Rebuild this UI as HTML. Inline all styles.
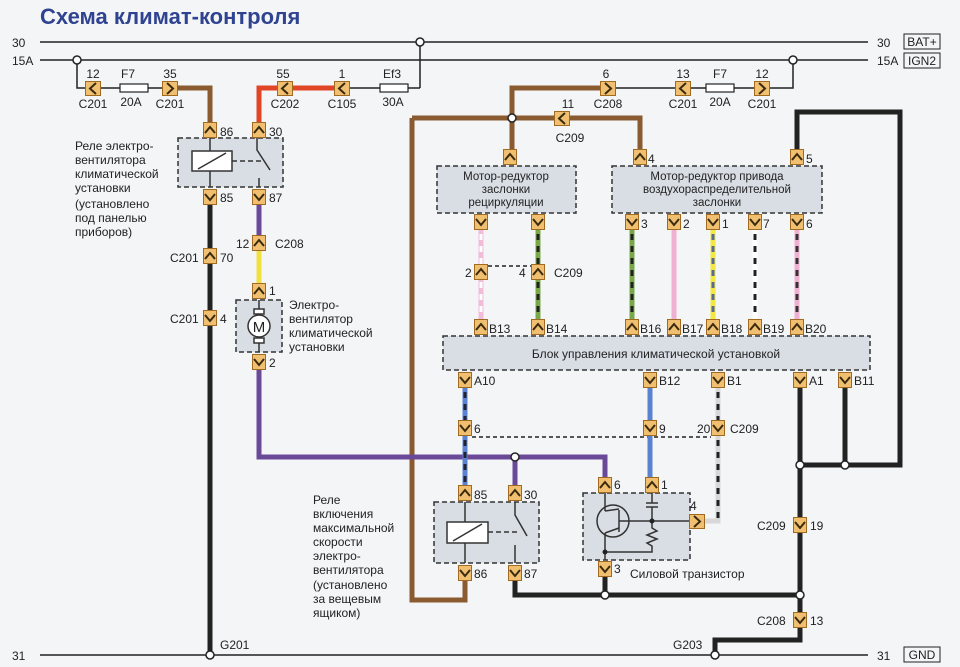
<!DOCTYPE html>
<html><head><meta charset="utf-8"><style>
html,body{margin:0;padding:0;background:#f3f5f7;}
svg{display:block;font-family:"Liberation Sans",sans-serif;}
</style></head><body>
<svg width="960" height="667" viewBox="0 0 960 667" xmlns="http://www.w3.org/2000/svg">
<defs>
<symbol id="cu" overflow="visible"><rect x="0.5" y="0.5" width="13" height="15" fill="#f0c070" stroke="#a06a20"/><polyline points="2,11 7,5 12,11" fill="none" stroke="#3a2a10" stroke-width="2"/></symbol>
<symbol id="cd" overflow="visible"><rect x="0.5" y="0.5" width="13" height="15" fill="#f0c070" stroke="#a06a20"/><polyline points="2,5 7,11 12,5" fill="none" stroke="#3a2a10" stroke-width="2"/></symbol>
<symbol id="cl" overflow="visible"><rect x="0.5" y="0.5" width="15" height="14" fill="#f0c070" stroke="#a06a20"/><polyline points="11,2 5,7.5 11,13" fill="none" stroke="#3a2a10" stroke-width="2"/></symbol>
<symbol id="cr" overflow="visible"><rect x="0.5" y="0.5" width="15" height="14" fill="#f0c070" stroke="#a06a20"/><polyline points="5,2 11,7.5 5,13" fill="none" stroke="#3a2a10" stroke-width="2"/></symbol>
</defs>
<rect width="960" height="667" fill="#f3f5f7"/>
<text x="40" y="24" font-size="22" font-weight="bold" fill="#2f4390">Схема климат-контроля</text>

<!-- boxes -->
<g fill="#d9dee5" stroke="#333" stroke-width="1.5" stroke-dasharray="5,3">
<rect x="178" y="138" width="105" height="49"/>
<rect x="236" y="300" width="46" height="52"/>
<rect x="437" y="166" width="139" height="47"/>
<rect x="612" y="166" width="210" height="47"/>
<rect x="443" y="336" width="427" height="34"/>
<rect x="434" y="502" width="105" height="61"/>
<rect x="583" y="493" width="107" height="67"/>
</g>

<!-- bus lines -->
<g stroke="#222" stroke-width="1.5" fill="none">
<line x1="40" y1="42" x2="868" y2="42"/>
<line x1="40" y1="60" x2="868" y2="60"/>
<line x1="40" y1="655" x2="868" y2="655"/>
<polyline points="77,60 77,88 86,88"/><line x1="100" y1="88" x2="163" y2="88"/>
<line x1="349" y1="88" x2="420" y2="88"/><line x1="420" y1="88" x2="420" y2="42"/>
<line x1="615" y1="88" x2="676" y2="88"/><polyline points="690,88 755,88"/><polyline points="769,88 793,88 793,60"/>
<line x1="488" y1="266" x2="531" y2="266" stroke-dasharray="4,3"/>
<line x1="472" y1="437" x2="711" y2="437" stroke-dasharray="4,3"/>
</g>
<g fill="#fff" stroke="#222" stroke-width="1.2">
<rect x="120" y="84" width="28" height="8"/><rect x="380" y="84" width="28" height="8"/><rect x="706" y="84" width="28" height="8"/>
</g>

<!-- wires -->
<g fill="none" stroke-width="5" stroke-linejoin="miter">
<polyline points="177,88 210,88 210,122" stroke="#8a5a30"/>
<polyline points="259,122 259,88 335,88" stroke="#e04525"/>
<polyline points="601,88 512,88 512,150" stroke="#8a5a30"/>
<polyline points="412,118 640,118 640,150" stroke="#8a5a30"/>
<polyline points="412,118 412,600 465,600 465,580" stroke="#8a5a30"/>
<polyline points="797,150 797,112 900,112 900,465 800,465" stroke="#222"/>
<line x1="845" y1="388" x2="845" y2="465" stroke="#222"/>
<line x1="210" y1="205" x2="210" y2="655" stroke="#222"/>
<line x1="259" y1="205" x2="259" y2="236" stroke="#6a4a98"/>
<line x1="259" y1="250" x2="259" y2="284" stroke="#f0e040"/>
<polyline points="259,370 259,457 605,457 605,478" stroke="#6a4a98"/>
<line x1="515" y1="457" x2="515" y2="486" stroke="#6a4a98"/>
<polyline points="800,388 800,640 715,640 715,655" stroke="#222"/>
<polyline points="515,580 515,595 800,595" stroke="#222"/>
<line x1="605" y1="576" x2="605" y2="595" stroke="#222"/>
<line x1="481" y1="230" x2="481" y2="320" stroke="#f2bcd8"/>
<line x1="538" y1="230" x2="538" y2="320" stroke="#78a848"/>
<line x1="632" y1="230" x2="632" y2="320" stroke="#78a848"/>
<line x1="674" y1="230" x2="674" y2="320" stroke="#f0b0d0"/>
<line x1="713" y1="230" x2="713" y2="320" stroke="#f2e840"/>
<line x1="755" y1="230" x2="755" y2="320" stroke="#fff"/>
<line x1="797" y1="230" x2="797" y2="320" stroke="#f0b0d0"/>
<line x1="465" y1="388" x2="465" y2="486" stroke="#5a82d0"/>
<line x1="650" y1="388" x2="650" y2="478" stroke="#5a82d0"/>
<polyline points="718,388 718,521 704,521" stroke="#d8d8d8"/>
</g>
<g fill="none" stroke-width="3" stroke-dasharray="6,6">
<line x1="481" y1="234" x2="481" y2="318" stroke="#fff"/>
<line x1="538" y1="234" x2="538" y2="318" stroke="#222"/>
<line x1="632" y1="234" x2="632" y2="318" stroke="#222"/>
<line x1="713" y1="234" x2="713" y2="318" stroke="#5a6a90"/>
<line x1="755" y1="234" x2="755" y2="318" stroke="#222"/>
<line x1="797" y1="234" x2="797" y2="318" stroke="#333"/>
<line x1="465" y1="392" x2="465" y2="484" stroke="#223"/>
<line x1="718" y1="392" x2="718" y2="518" stroke="#222"/>
</g>

<!-- relay 1 internals -->
<g fill="none" stroke="#333" stroke-width="1.5">
<line x1="210" y1="138" x2="210" y2="151"/><line x1="210" y1="171" x2="210" y2="187"/>
<rect x="192" y="151" width="40" height="20" fill="#fff"/><line x1="198" y1="169" x2="226" y2="153"/>
<line x1="232" y1="161" x2="264" y2="161" stroke-dasharray="5,3"/>
<polyline points="257,138 257,150 270,170"/><line x1="259" y1="178" x2="259" y2="187"/>
<line x1="465" y1="502" x2="465" y2="522"/><line x1="465" y1="543" x2="465" y2="563"/>
<rect x="447" y="522" width="41" height="21" fill="#fff"/><line x1="453" y1="541" x2="482" y2="524"/>
<line x1="488" y1="532" x2="520" y2="532" stroke-dasharray="5,3"/>
<polyline points="515,502 515,515 527,536"/><line x1="515" y1="545" x2="515" y2="563"/>
<line x1="259" y1="300" x2="259" y2="310"/><rect x="254" y="309" width="10" height="5" fill="#fff"/>
<circle cx="259" cy="326" r="11" fill="#fff"/><rect x="254" y="338" width="10" height="5" fill="#fff"/><line x1="259" y1="343" x2="259" y2="352"/>
<circle cx="613" cy="521" r="16"/><line x1="605" y1="493" x2="605" y2="511"/><line x1="605" y1="511" x2="619" y2="509"/>
<line x1="619" y1="510" x2="619" y2="532"/><line x1="619" y1="528" x2="605" y2="533"/>
<line x1="605" y1="533" x2="605" y2="560"/><line x1="619" y1="521" x2="690" y2="521"/>
<line x1="652" y1="493" x2="652" y2="503"/><line x1="646" y1="503" x2="658" y2="503"/><line x1="646" y1="507" x2="658" y2="507"/><line x1="652" y1="507" x2="652" y2="521"/>
<polyline points="652,521 652,528 657,531 647,535 657,539 647,543 652,546 652,552 605,552"/>
</g>
<g fill="#222"><circle cx="652" cy="521" r="2.5"/><circle cx="605" cy="552" r="2.5"/></g>
<text x="259" y="332" font-size="15" text-anchor="middle" fill="#222">M</text>

<!-- junctions -->
<g fill="#fff" stroke="#222" stroke-width="1.5">
<circle cx="420" cy="42" r="4"/><circle cx="77" cy="60" r="4"/><circle cx="793" cy="60" r="4"/>
<circle cx="512" cy="118" r="4"/><circle cx="515" cy="457" r="4"/><circle cx="605" cy="595" r="4"/>
<circle cx="800" cy="595" r="4"/><circle cx="800" cy="465" r="4"/><circle cx="845" cy="465" r="4"/>
<circle cx="210" cy="655" r="4"/><circle cx="715" cy="655" r="4"/>
</g>

<!-- connectors -->
<use href="#cl" x="85" y="81"/><use href="#cr" x="162" y="81"/><use href="#cl" x="277" y="81"/><use href="#cl" x="334" y="81"/>
<use href="#cr" x="600" y="81"/><use href="#cl" x="675" y="81"/><use href="#cr" x="754" y="81"/>
<use href="#cl" x="554" y="111"/>
<use href="#cu" x="203" y="122"/><use href="#cu" x="252" y="122"/><use href="#cd" x="203" y="189"/><use href="#cd" x="252" y="189"/>
<use href="#cu" x="252" y="235"/><use href="#cu" x="203" y="248"/><use href="#cd" x="203" y="310"/><use href="#cu" x="252" y="283"/><use href="#cd" x="252" y="354"/>
<use href="#cu" x="503" y="149"/><use href="#cu" x="633" y="149"/><use href="#cu" x="790" y="149"/>
<use href="#cd" x="474" y="214"/><use href="#cd" x="531" y="214"/><use href="#cd" x="625" y="214"/><use href="#cd" x="667" y="214"/><use href="#cd" x="706" y="214"/><use href="#cd" x="748" y="214"/><use href="#cd" x="790" y="214"/>
<use href="#cu" x="474" y="264"/><use href="#cu" x="531" y="264"/>
<use href="#cu" x="474" y="319"/><use href="#cu" x="531" y="319"/><use href="#cu" x="625" y="319"/><use href="#cu" x="667" y="319"/><use href="#cu" x="706" y="319"/><use href="#cu" x="748" y="319"/><use href="#cu" x="790" y="319"/>
<use href="#cd" x="458" y="372"/><use href="#cd" x="643" y="372"/><use href="#cd" x="711" y="372"/><use href="#cd" x="793" y="372"/><use href="#cd" x="838" y="372"/>
<use href="#cd" x="458" y="420"/><use href="#cd" x="643" y="420"/><use href="#cd" x="711" y="420"/>
<use href="#cu" x="458" y="485"/><use href="#cu" x="508" y="485"/><use href="#cd" x="458" y="565"/><use href="#cd" x="508" y="565"/>
<use href="#cu" x="598" y="477"/><use href="#cu" x="645" y="477"/><use href="#cd" x="598" y="561"/><use href="#cr" x="689" y="514"/>
<use href="#cd" x="793" y="517"/><use href="#cd" x="793" y="612"/>

<!-- labels -->
<g font-size="12" fill="#222">
<text x="12" y="47">30</text><text x="12" y="65">15A</text><text x="12" y="660">31</text>
<text x="877" y="47">30</text><text x="877" y="65">15A</text><text x="877" y="660">31</text>
<rect x="904" y="34" width="36" height="15" fill="none" stroke="#222"/><text x="922" y="46" text-anchor="middle">BAT+</text>
<rect x="904" y="53" width="36" height="15" fill="none" stroke="#222"/><text x="922" y="65" text-anchor="middle">IGN2</text>
<rect x="904" y="647" width="36" height="15" fill="none" stroke="#222"/><text x="922" y="659" text-anchor="middle">GND</text>
<g text-anchor="middle">
<text x="93" y="78">12</text><text x="128" y="78">F7</text><text x="170" y="78">35</text>
<text x="93" y="108">C201</text><text x="131" y="106">20A</text><text x="170" y="108">C201</text>
<text x="283" y="78">55</text><text x="342" y="78">1</text><text x="392" y="78">Ef3</text>
<text x="285" y="108">C202</text><text x="342" y="108">C105</text><text x="393" y="106">30A</text>
<text x="606" y="78">6</text><text x="683" y="78">13</text><text x="720" y="78">F7</text><text x="762" y="78">12</text>
<text x="608" y="108">C208</text><text x="683" y="108">C201</text><text x="720" y="106">20A</text><text x="762" y="108">C201</text>
<text x="568" y="108">11</text><text x="570" y="142">C209</text>
<g font-size="11.5">
<text x="506" y="180">Мотор-редуктор</text><text x="506" y="193">заслонки</text><text x="506" y="206">рециркуляции</text>
<text x="717" y="180">Мотор-редуктор привода</text><text x="717" y="193">воздухораспределительной</text><text x="717" y="206">заслонки</text>
</g>
<text x="656" y="358">Блок управления климатической установкой</text>
</g>
<text x="220" y="136">86</text><text x="269" y="136">30</text><text x="220" y="202">85</text><text x="269" y="202">87</text>
<text x="236" y="248">12</text><text x="275" y="248">C208</text>
<text x="170" y="262">C201</text><text x="220" y="262">70</text>
<text x="170" y="323">C201</text><text x="220" y="323">4</text>
<text x="269" y="295">1</text><text x="269" y="367">2</text>
<text x="648" y="163">4</text><text x="806" y="163">5</text>
<text x="641" y="228">3</text><text x="683" y="228">2</text><text x="722" y="228">1</text><text x="763" y="228">7</text><text x="806" y="228">6</text>
<text x="465" y="277">2</text><text x="519" y="277">4</text><text x="554" y="277">C209</text>
<text x="489" y="333">B13</text><text x="546" y="333">B14</text><text x="640" y="333">B16</text><text x="682" y="333">B17</text><text x="721" y="333">B18</text><text x="763" y="333">B19</text><text x="805" y="333">B20</text>
<text x="474" y="385">A10</text><text x="659" y="385">B12</text><text x="727" y="385">B1</text><text x="809" y="385">A1</text><text x="854" y="385">B11</text>
<text x="474" y="433">6</text><text x="659" y="433">9</text><text x="697" y="433">20</text><text x="730" y="433">C209</text>
<text x="474" y="499">85</text><text x="524" y="499">30</text><text x="474" y="578">86</text><text x="524" y="578">87</text>
<text x="614" y="489">6</text><text x="661" y="489">1</text><text x="614" y="573">3</text><text x="690" y="510">4</text>
<text x="630" y="578">Силовой транзистор</text>
<text x="757" y="530">C209</text><text x="810" y="530">19</text>
<text x="757" y="625">C208</text><text x="810" y="625">13</text>
<text x="220" y="649">G201</text><text x="673" y="649">G203</text>
<text x="75" y="150">Реле электро-</text><text x="75" y="164">вентилятора</text><text x="75" y="178">климатической</text><text x="75" y="192">установки</text>
<text x="75" y="208">(установлено</text><text x="75" y="222">под панелью</text><text x="75" y="236">приборов)</text>
<text x="289" y="309">Электро-</text><text x="289" y="323">вентилятор</text><text x="289" y="337">климатической</text><text x="289" y="351">установки</text>
<text x="313" y="504">Реле</text><text x="313" y="518">включения</text><text x="313" y="532">максимальной</text><text x="313" y="546">скорости</text><text x="313" y="560">электро-</text><text x="313" y="574">вентилятора</text>
<text x="313" y="589">(установлено</text><text x="313" y="603">за вещевым</text><text x="313" y="617">ящиком)</text>
</g>
</svg>
</body></html>
